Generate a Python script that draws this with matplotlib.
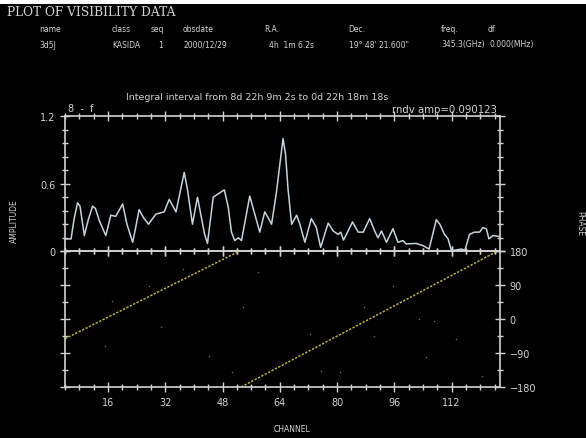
import matplotlib
matplotlib.use("Agg")
import matplotlib.pyplot as plt
from matplotlib.ticker import MultipleLocator, FixedLocator
from matplotlib.patches import Rectangle

# amplitude spectrum (channel, amplitude)
amp_chan = [4.0, 5.7, 6.5, 7.5, 8.2, 9.4, 10.5, 11.7, 12.5, 13.6, 15.4, 16.8,
            18.2, 20.1, 21.3, 22.9, 23.8, 24.7, 25.9, 27.3, 29.4, 31.7, 33.1,
            35.0, 37.3, 38.2, 39.6, 41.0, 43.0, 43.8, 45.4, 46.8, 48.5, 49.6,
            50.5, 51.4, 52.4, 53.3, 55.6, 57.0, 58.4, 59.8, 60.7, 61.7, 63.0,
            64.9, 65.6, 66.3, 67.3, 68.7, 69.6, 71.0, 72.8, 74.2, 75.4, 77.5,
            78.9, 80.3, 81.0, 81.8, 82.6, 84.3, 85.9, 87.3, 89.1, 90.5, 91.4,
            92.4, 93.8, 95.6, 97.0, 98.4, 99.3, 102.1, 104.0, 105.7, 107.7,
            108.7, 110.0, 111.0, 111.9, 113.0, 114.7, 115.7, 117.0, 118.3,
            119.8, 120.7, 121.7, 122.4, 123.5, 125.5]
amp_vals = [0.11, 0.11, 0.28, 0.43, 0.40, 0.14, 0.28, 0.40, 0.38, 0.27, 0.14, 0.32,
            0.31, 0.42, 0.24, 0.08, 0.22, 0.37, 0.30, 0.24, 0.33, 0.35, 0.46,
            0.35, 0.70, 0.55, 0.24, 0.48, 0.15, 0.07, 0.48, 0.51, 0.545, 0.39,
            0.17, 0.095, 0.12, 0.095, 0.49, 0.33, 0.17, 0.35, 0.30, 0.24, 0.51,
            1.00, 0.86, 0.55, 0.24, 0.32, 0.24, 0.08, 0.29, 0.21, 0.035, 0.25,
            0.18, 0.15, 0.17, 0.10, 0.15, 0.26, 0.17, 0.17, 0.29, 0.18, 0.12,
            0.18, 0.08, 0.20, 0.08, 0.095, 0.065, 0.07, 0.05, 0.02, 0.28,
            0.24, 0.15, 0.11, 0.01, 0.01, 0.02, 0.01, 0.15, 0.17,
            0.17, 0.21, 0.20, 0.11, 0.14, 0.13]

# phase model, two wrapped segments (channel, degrees)
phase_seg1_chan = [4.0, 52.6]
phase_seg1_deg = [-52, 180]
phase_seg2_chan = [53.2, 124.7]
phase_seg2_deg = [-180, 180]

# faint scattered phase points
dot_chan = [17.2, 27.6, 37.0, 44.3, 53.7, 57.9, 72.5, 75.6, 80.8, 87.6,
            95.5, 102.8, 107.0, 113.2, 120.5, 30.7, 15.1, 90.2, 104.9, 50.6]
dot_deg = [49, 89, 133, -97, 31, 124, -39, -137, -141, 31,
           89, 0, -4, -53, -150, -22, -70, -44, -101, -141]

header_names = ["name", "class", "seq", "obsdate", "R.A.", "Dec.", "freq.", "df"]
header_values = ["3d5J", "KASIDA", "1", "2000/12/29", "4h  1m 6.2s",
                 "19\u00b0 48' 21.600\"", "345.3(GHz)", "0.000(MHz)"]
header_x = [39, 112, 151, 183, 264, 348, 441, 488]
value_x = [39, 112, 158, 183, 269, 349, 441, 490]

W, H = 586, 439
fg = "#d2d2d2"

def fx(x):
    return x / W

def fy(y):
    return 1 - y / H

fig = plt.figure(figsize=(W / 100, H / 100), dpi=100, facecolor="white")
fig.patches.append(Rectangle((0, 0), 1, fy(5), transform=fig.transFigure,
                             facecolor="black", edgecolor="none", zorder=-10))

left, right = 65, 500
ax1 = fig.add_axes([fx(left), fy(252.3), fx(right - left), fy(117) - fy(252.3)])
ax2 = fig.add_axes([fx(left), fy(388), fx(right - left), fy(252.3) - fy(388)])

for ax in (ax1, ax2):
    ax.set_facecolor("black")
    ax.patch.set_alpha(0)
    for s in ax.spines.values():
        s.set_color(fg)
        s.set_linewidth(1.2)
    ax.set_xlim(4, 125.5)
    ax.xaxis.set_major_locator(FixedLocator([16, 32, 48, 64, 80, 96, 112]))
    ax.xaxis.set_minor_locator(MultipleLocator(4))
    ax.tick_params(which="both", direction="inout", colors=fg,
                   top=True, bottom=True, left=True, right=True,
                   labelsize=7, width=1)
    ax.tick_params(which="major", length=7)
    ax.tick_params(which="minor", length=4)

ax1.plot(amp_chan, amp_vals, color="#c4d4dc", lw=1.1)
ax1.set_ylim(0, 1.2)
ax1.set_yticks([0, 0.6, 1.2])
ax1.set_yticklabels(["0", "0.6", "1.2"])
ax1.yaxis.set_minor_locator(MultipleLocator(0.12))
ax1.tick_params(labelbottom=False)

ax2.scatter(dot_chan, dot_deg, s=1.2, color="#6a6a60", linewidths=0)
ax2.plot(phase_seg1_chan, phase_seg1_deg, color="#b8b040", lw=1.1, ls=(0, (1.5, 1)))
ax2.plot(phase_seg2_chan, phase_seg2_deg, color="#b8b040", lw=1.1, ls=(0, (1.5, 1)))
ax2.set_ylim(-180, 180)
ax2.set_yticks([-180, -90, 0, 90, 180])
ax2.yaxis.set_minor_locator(MultipleLocator(45))
ax2.tick_params(labelleft=False, labelright=True)

fig.text(fx(7), fy(13), "PLOT OF VISIBILITY DATA", family="DejaVu Serif",
         fontsize=8.8, color=fg, va="center", ha="left")
for name, x in zip(header_names, header_x):
    fig.text(fx(x), fy(30), name, fontsize=5.5, color=fg, va="center")
for val, x in zip(header_values, value_x):
    fig.text(fx(x), fy(45), val, fontsize=5.5, color=fg, va="center")

fig.text(fx(257), fy(97), "Integral interval from 8d 22h 9m 2s to 0d 22h 18m 18s",
         fontsize=6.8, color=fg, ha="center", va="center")
fig.text(fx(68), fy(109), "8  -  f", fontsize=7, color=fg, ha="left", va="center")
fig.text(fx(497), fy(110), "rndv amp=0.090123", fontsize=7.3, color=fg,
         ha="right", va="center")

fig.text(fx(14), fy(221), "AMPLITUDE", fontsize=5.5, color=fg, rotation=90,
         ha="center", va="center")
fig.text(fx(580), fy(224), "PHASE", fontsize=5.5, color=fg, rotation=270,
         ha="center", va="center")
fig.text(fx(292), fy(430), "CHANNEL", fontsize=5.5, color=fg,
         ha="center", va="center")

fig.savefig("out.png", dpi=100, facecolor=fig.get_facecolor())
